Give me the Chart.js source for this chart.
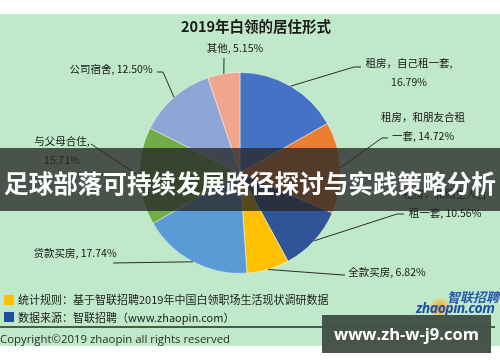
<!DOCTYPE html>
<html>
<head>
<meta charset="utf-8">
<script src="https://cdn.jsdelivr.net/npm/chart.js@4"></script>
<style>
  body { margin: 0; background: #fff; }
  #wrap { position: relative; width: 500px; height: 362px; overflow: hidden; font-family: "Noto Sans CJK SC", "Noto Sans", sans-serif; }
  #bg { position: absolute; left: 0; top: 14px; width: 500px; height: 332px; background: #c0e9c9; }
  #chart { position: absolute; left: 0; top: 0; }
  .txt { position: absolute; white-space: nowrap; color: #1a1a1a; }
  .sq { position: absolute; width: 10px; height: 10px; }
</style>
</head>
<body>
<div id="wrap">
  <div id="bg"></div>
  <canvas id="chart" width="500" height="362"></canvas>

  <div class="txt" style="left:0;width:512px;top:15px;line-height:22px;text-align:center;font-size:14.5px;font-weight:bold;">2019年白领的居住形式</div>

  <div class="sq" style="left:4px;top:295px;background:#ffc000;"></div>
  <div class="txt" style="left:18px;top:291px;line-height:17px;font-size:11px;">统计规则：基于智联招聘2019年中国白领职场生活现状调研数据</div>
  <div class="sq" style="left:4px;top:312px;background:#1f4e9c;"></div>
  <div class="txt" style="left:18px;top:309px;line-height:17px;font-size:11px;">数据来源：智联招聘（www.zhaopin.com）</div>
  <div style="position:absolute;left:0;top:326px;width:495px;height:1.5px;background:#4a5a4c;"></div>
  <div class="txt" style="left:0;top:330px;line-height:17px;font-size:11.4px;font-family:'Open Sans',sans-serif;color:#2a2a2a;">Copyright©2019 zhaopin all rights reserved</div>

  <div style="position:absolute;left:430px;top:298px;width:20px;height:20px;border-radius:50%;background:radial-gradient(circle, rgba(240,160,40,0.95) 0%, rgba(245,190,80,0.6) 55%, rgba(245,200,100,0) 100%);"></div>
  <div class="txt" style="left:447px;top:289px;line-height:16px;font-size:13px;font-weight:bold;font-style:italic;color:#2457b0;">智联招聘</div>
  <div class="txt" style="left:416px;top:299px;line-height:17px;font-size:14px;font-weight:bold;font-style:italic;color:#1f4fa8;font-family:'Open Sans',sans-serif;letter-spacing:-0.5px;">zhaopin.com</div>

  <div style="position:absolute;left:0;top:148px;width:500px;height:63px;background:rgba(40,40,40,0.78);"></div>
  <div class="txt" style="left:0;top:165px;width:500px;line-height:34px;text-align:center;font-size:24.6px;font-weight:bold;color:#fff;">足球部落可持续发展路径探讨与实践策略分析</div>

  <div style="position:absolute;left:322px;top:315px;width:169px;height:38px;background:rgba(66,80,70,0.97);"></div>
  <div class="txt" style="left:322px;top:318px;width:169px;line-height:32px;text-align:center;font-size:16.5px;font-weight:bold;color:#fff;font-family:'Open Sans',sans-serif;">www.zh-w-j9.com</div>
</div>

<script>
// 2019年白领的居住形式 (%)
var categories = ["租房，自己租一套", "租房，和朋友合租一套", "租房，和陌生人合租一套", "全款买房", "贷款买房", "与父母合住", "公司宿舍", "其他"];
var shares = [16.79, 14.72, 10.56, 6.82, 17.74, 15.71, 12.50, 5.15];
var sliceColors = ["#4472c4", "#ed7d31", "#2f5597", "#ffc000", "#5b9bd5", "#70ad47", "#8ea5d6", "#f0a58c"];

// where each label sits and how its leader line bends
var labelLayout = [
    { cut: 9, x: 409, y: 63, elbow: [354, 67], end: [361, 67] },
    { cut: 8, x: 423, y: 117, elbow: [382, 138], end: [388, 138] },
    { cut: 8, x: 445, y: 194, elbow: [397, 214], end: [404, 214] },
    { cut: 99, x: 387, y: 272, elbow: [343, 275], end: [345, 275] },
    { cut: 99, x: 75, y: 253, elbow: [114, 263], end: [113, 263] },
    { cut: 6, x: 62, y: 141, elbow: [91, 144], end: [91, 144] },
    { cut: 99, x: 111, y: 69, elbow: [163, 72], end: [157, 72] },
    { cut: 99, x: 235, y: 48, elbow: [224, 58], end: [224, 58] }
];

function labelLines (i) {
    let text = categories[i] + ", " + shares[i].toFixed(2) + "%";
    let cut = labelLayout[i].cut;
    if (cut >= text.length) {
        return [text];
    }
    return [text.slice(0, cut), text.slice(cut).trim()];
}

var leaderLabels = {
    id: "leaderLabels",
    afterDatasetsDraw (chart) {
        let ctx = chart.ctx;
        let arcs = chart.getDatasetMeta(0).data;
        ctx.save();
        arcs.forEach(function (arc, i) {
            let p = arc.getProps(["x", "y", "startAngle", "endAngle", "outerRadius"], true);
            let mid = (p.startAngle + p.endAngle) / 2;
            let sx = p.x + Math.cos(mid) * p.outerRadius;
            let sy = p.y + Math.sin(mid) * p.outerRadius;
            let lay = labelLayout[i];
            ctx.strokeStyle = "#2b2b2b";
            ctx.lineWidth = 1;
            ctx.beginPath();
            ctx.moveTo(sx, sy);
            ctx.lineTo(lay.elbow[0], lay.elbow[1]);
            ctx.lineTo(lay.end[0], lay.end[1]);
            ctx.stroke();

            ctx.fillStyle = "#141414";
            ctx.font = "10.5px 'Noto Sans CJK SC'";
            ctx.textAlign = "center";
            ctx.textBaseline = "middle";
            labelLines(i).forEach(function (line, k) {
                ctx.fillText(line, lay.x, lay.y + k * 19);
            });
        });
        ctx.restore();
    }
};

new Chart(document.getElementById("chart"), {
    type: "pie",
    data: {
        labels: categories,
        datasets: [
            {
                data: shares,
                backgroundColor: sliceColors,
                borderColor: "rgba(255,255,255,0.45)",
                borderWidth: 1
            }
        ]
    },
    options: {
        responsive: false,
        animation: false,
        layout: {
            padding: { left: 139, right: 159, top: 72, bottom: 88 }
        },
        plugins: {
            legend: { display: false },
            tooltip: { enabled: false },
            title: { display: false }
        }
    },
    plugins: [leaderLabels]
});
</script>
</body>
</html>
